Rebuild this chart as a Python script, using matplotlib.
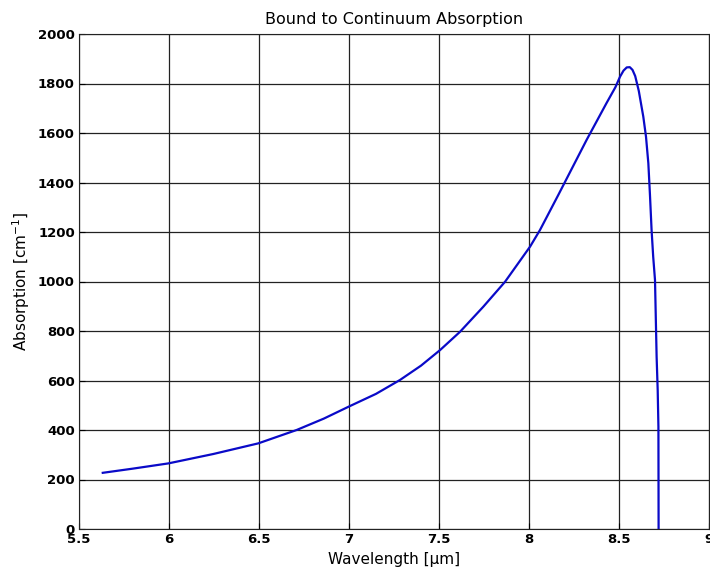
#Bound to continuum absorption curve, MATLAB-style grid plot
import matplotlib
matplotlib.use('Agg')
import matplotlib.pyplot as plt

plt.rcParams['font.family'] = ['DejaVu Sans']
plt.rcParams['mathtext.fontset'] = 'dejavusans'

#values
wavelength = [5.632, 5.80, 5.996, 6.246, 6.496, 6.709, 6.86, 7.006, 7.15, 7.283, 7.40, 7.506,
              7.617, 7.746, 7.867, 8.006, 8.061, 8.163, 8.32, 8.43, 8.48,
              8.506, 8.525, 8.543, 8.56, 8.575, 8.59, 8.61, 8.635, 8.65, 8.663,
              8.672, 8.681, 8.69, 8.70, 8.709, 8.715, 8.719, 8.72]
absorption = [227, 244, 265, 303, 346, 400, 446, 497, 546, 602, 660, 723,
              797, 898, 999, 1141, 1208, 1350, 1572, 1720, 1785,
              1828, 1852, 1865, 1866, 1855, 1830, 1770, 1666, 1585, 1478,
              1350, 1208, 1100, 1006, 696, 560, 413, 0]

xticks = [5.5, 6, 6.5, 7, 7.5, 8, 8.5, 9]
xtick_labels = ['5.5', '6', '6.5', '7', '7.5', '8', '8.5', '9']
yticks = [0, 200, 400, 600, 800, 1000, 1200, 1400, 1600, 1800, 2000]

fig = plt.figure(figsize=(7.1, 5.71), dpi=100)
ax = fig.add_axes([79/710, 42/571, 630/710, 495/571])

ax.plot(wavelength, absorption, color='#0a0ac8', linewidth=1.6,
        solid_joinstyle='round')

ax.set_xlim(5.5, 9)
ax.set_ylim(0, 2000)
ax.set_xticks(xticks)
ax.set_xticklabels(xtick_labels, fontweight='bold')
ax.set_yticks(yticks)
ax.set_yticklabels([str(v) for v in yticks], fontweight='bold')
ax.grid(True, color='#222222', linestyle='-', linewidth=0.9)
ax.set_axisbelow(True)
ax.tick_params(direction='in', length=4, labelsize=9.5, pad=3, colors='black')
for s in ax.spines.values():
    s.set_color('#222222')

ax.set_title('Bound to Continuum Absorption', fontsize=11.5, pad=7)
ax.set_xlabel('Wavelength [\u03bcm]', fontsize=11, labelpad=4)
ax.set_ylabel(r'Absorption [cm$^{-1}$]', fontsize=11, labelpad=4)

fig.savefig('out.png', dpi=100)
